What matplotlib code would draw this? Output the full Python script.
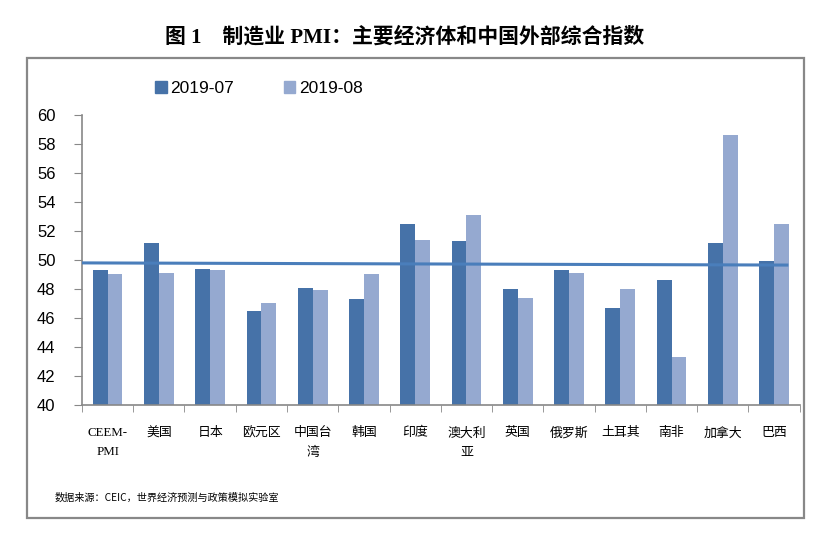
import numpy as np
import matplotlib
matplotlib.use("Agg")
import matplotlib.pyplot as plt
from matplotlib.patches import Rectangle, Patch

# data
categories = ["CEEM-\nPMI", "美国", "日本", "欧元区", "中国台\n湾", "韩国", "印度",
              "澳大利\n亚", "英国", "俄罗斯", "土耳其", "南非", "加拿大", "巴西"]
pmi_2019_07 = [49.3, 51.2, 49.4, 46.5, 48.1, 47.3, 52.5, 51.3, 48.0, 49.3, 46.7, 48.6, 51.2, 49.9]
pmi_2019_08 = [49.0, 49.1, 49.3, 47.0, 47.9, 49.0, 51.4, 53.1, 47.4, 49.1, 48.0, 43.3, 58.6, 52.5]
composite_ends = [49.8, 49.65]  # composite level line, left / right end
series_names = ["2019-07", "2019-08"]

dark = "#4672a8"
light = "#95a9d0"
line_c = "#4a7ebb"
grey = "#888888"

cjk_serif = ["Liberation Serif", "Noto Sans CJK SC", "DejaVu Sans"]
plt.rcParams["font.family"] = ["Liberation Sans", "Noto Sans CJK SC", "DejaVu Sans"]

fig = plt.figure(figsize=(8.33, 5.47), dpi=100)
ax = fig.add_axes([0.0984, 0.2596, 0.8616, 0.5302])

x = np.arange(len(categories))
w = 0.29
ax.bar(x - w / 2, pmi_2019_07, width=w, color=dark, zorder=2)
ax.bar(x + w / 2, pmi_2019_08, width=w, color=light, zorder=2)
ax.plot([-0.55, len(categories) - 0.75], composite_ends, color=line_c, lw=2.2, zorder=3)

ax.set_xlim(-0.5, len(categories) - 0.5)
ax.set_ylim(40, 60)
ax.set_yticks(np.arange(40, 61, 2))
ax.tick_params(axis="y", labelsize=12, length=6, color=grey, pad=13)

ax.set_xticks(x)
ax.set_xticklabels(categories, fontsize=9.3, family=cjk_serif, linespacing=1.8, va="top")
ax.tick_params(axis="x", which="major", length=0, pad=16)
ax.set_xticks(np.arange(-0.5, len(categories), 1), minor=True)
ax.tick_params(axis="x", which="minor", length=5, color=grey)

for s in ["top", "right"]:
    ax.spines[s].set_visible(False)
for s in ["left", "bottom"]:
    ax.spines[s].set_color(grey)
    ax.spines[s].set_linewidth(1.2)

handles = [Patch(color=dark), Patch(color=light)]
fig.legend(handles, series_names, loc="center left", bbox_to_anchor=(0.176, 0.838),
           ncol=2, frameon=False, fontsize=12.5, handlelength=0.65, handleheight=0.65,
           handletextpad=0.2, columnspacing=2.9, borderpad=0)

fig.text(0.486, 0.932, "图 1    制造业 PMI：主要经济体和中国外部综合指数", ha="center", va="center",
         fontsize=15, fontweight="bold", family=cjk_serif)
fig.text(0.066, 0.09, "数据来源：CEIC，世界经济预测与政策模拟实验室", ha="left", va="center",
         fontsize=7.3, family=["Noto Sans CJK SC", "DejaVu Sans"])

fig.patches.append(Rectangle((0.0324, 0.053), 0.9328, 0.841, transform=fig.transFigure,
                             fill=False, edgecolor=grey, linewidth=1.6))

fig.savefig("out.png", dpi=100)
